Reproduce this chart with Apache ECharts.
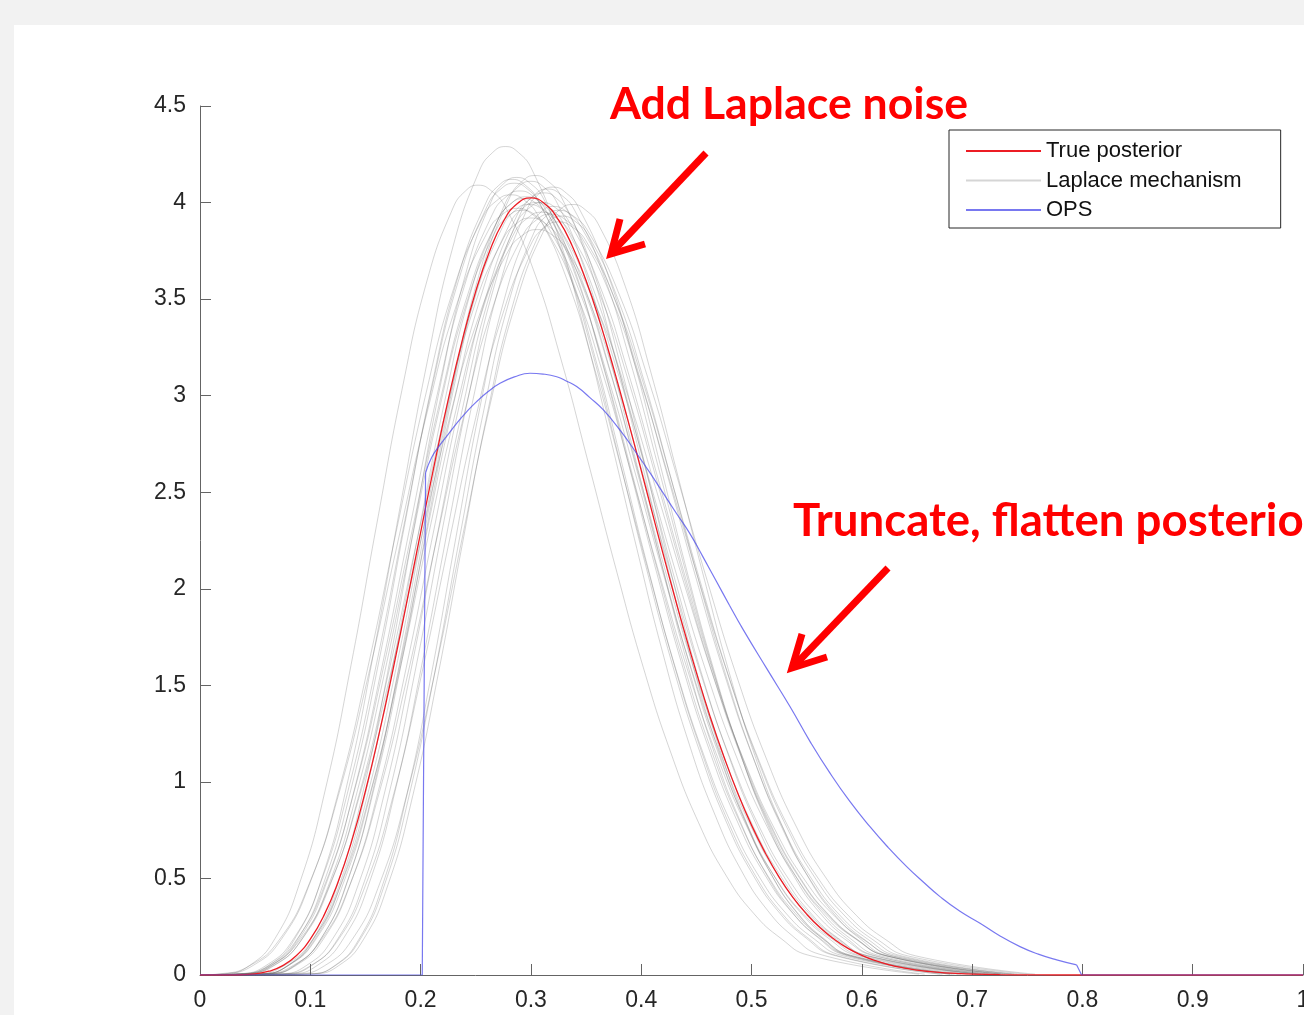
<!DOCTYPE html>
<html>
<head>
<meta charset="utf-8">
<script src="https://cdn.jsdelivr.net/npm/echarts@6/dist/echarts.min.js"></script>
<style>
html,body{margin:0;padding:0;width:1304px;height:1015px;background:#f2f2f2;overflow:hidden;}
#panel{position:absolute;left:14px;top:25px;right:0;bottom:0;background:#ffffff;}
#chart{position:absolute;left:0;top:0;width:1304px;height:1015px;}
</style>
</head>
<body>
<div id="panel"></div>
<div id="chart"></div>
<script>
// ---- Axis ticks ----
const xTicks = [0, 0.1, 0.2, 0.3, 0.4, 0.5, 0.6, 0.7, 0.8, 0.9, 1];
const yTicks = [0, 0.5, 1, 1.5, 2, 2.5, 3, 3.5, 4, 4.5];

// ---- True posterior (red) ----
const trueX = [0, 0.0125, 0.025, 0.0375, 0.05, 0.0625, 0.075, 0.0875, 0.1, 0.1125, 0.125, 0.1375, 0.15, 0.1625, 0.175, 0.1875, 0.2, 0.2125, 0.225, 0.2375, 0.25, 0.2625, 0.275, 0.2875, 0.3, 0.3125, 0.325, 0.3375, 0.35, 0.3625, 0.375, 0.3875, 0.4, 0.4125, 0.425, 0.4375, 0.45, 0.4625, 0.475, 0.4875, 0.5, 0.5125, 0.525, 0.5375, 0.55, 0.5625, 0.575, 0.5875, 0.6, 0.6125, 0.625, 0.6375, 0.65, 0.6625, 0.675, 0.6875, 0.7, 0.725, 0.75, 0.775, 0.8, 0.9, 1];
const trueY = [0, 0, 0.0001, 0.0013, 0.0062, 0.0196, 0.0486, 0.1013, 0.186, 0.310, 0.479, 0.693, 0.953, 1.252, 1.582, 1.932, 2.291, 2.644, 2.978, 3.280, 3.540, 3.747, 3.902, 3.994, 4.024, 3.994, 3.910, 3.775, 3.596, 3.382, 3.141, 2.882, 2.613, 2.340, 2.071, 1.812, 1.567, 1.338, 1.130, 0.942, 0.776, 0.632, 0.507, 0.402, 0.315, 0.243, 0.185, 0.138, 0.102, 0.074, 0.0528, 0.037, 0.0254, 0.0171, 0.0113, 0.0073, 0.0046, 0.0017, 0.0005, 0.0001, 0, 0, 0];

// ---- OPS (blue) ----
const opsZeroX = [0, 0.2015, 0.2045];
const opsZeroY = [0, 0, 2.60];
const opsX = [0.2045, 0.21, 0.2176, 0.225, 0.2327, 0.2415, 0.2508, 0.261, 0.272, 0.285, 0.2992, 0.311, 0.3234, 0.3325, 0.3415, 0.3535, 0.3657, 0.381, 0.396, 0.408, 0.420, 0.432, 0.444, 0.456, 0.468, 0.48, 0.4926, 0.514, 0.535, 0.553, 0.5712, 0.589, 0.6074, 0.624, 0.6407, 0.656, 0.6709, 0.689, 0.7072, 0.725, 0.7434, 0.76, 0.7767, 0.7948];
const opsY = [2.60, 2.68, 2.745, 2.80, 2.857, 2.915, 2.969, 3.02, 3.064, 3.097, 3.116, 3.112, 3.098, 3.075, 3.047, 2.99, 2.926, 2.82, 2.70, 2.60, 2.495, 2.39, 2.287, 2.165, 2.04, 1.915, 1.787, 1.585, 1.389, 1.21, 1.045, 0.90, 0.768, 0.66, 0.561, 0.48, 0.406, 0.33, 0.268, 0.203, 0.147, 0.108, 0.078, 0.052];
const opsTailX = [0.7948, 0.7993, 1];
const opsTailY = [0.052, 0, 0];

// ---- Laplace mechanism samples (gray): main points ----
const lapX = [
 [0, 0.022, 0.068, 0.091, 0.114, 0.137, 0.16, 0.183, 0.206, 0.229, 0.252, 0.277, 0.302, 0.327, 0.352, 0.377, 0.402, 0.427, 0.452, 0.502, 0.552, 0.652],
 [0, 0.0395, 0.087, 0.111, 0.1345, 0.158, 0.182, 0.206, 0.2295, 0.253, 0.277, 0.301, 0.3245, 0.348, 0.372, 0.396, 0.4195, 0.443, 0.467, 0.5145, 0.562, 0.657],
 [0.013, 0.0615, 0.11, 0.134, 0.1585, 0.183, 0.207, 0.231, 0.2555, 0.28, 0.304, 0.328, 0.3515, 0.375, 0.399, 0.423, 0.4465, 0.47, 0.494, 0.5415, 0.589, 0.684],
 [0, 0.035, 0.085, 0.11, 0.135, 0.16, 0.185, 0.21, 0.235, 0.26, 0.285, 0.309, 0.3335, 0.358, 0.382, 0.406, 0.4305, 0.455, 0.479, 0.5275, 0.576, 0.673],
 [0, 0.04, 0.09, 0.115, 0.14, 0.165, 0.19, 0.215, 0.24, 0.265, 0.29, 0.315, 0.34, 0.365, 0.39, 0.415, 0.44, 0.465, 0.49, 0.54, 0.59, 0.69],
 [0, 0.036, 0.088, 0.114, 0.14, 0.166, 0.192, 0.218, 0.244, 0.27, 0.296, 0.321, 0.346, 0.371, 0.396, 0.421, 0.446, 0.471, 0.496, 0.546, 0.596, 0.696],
 [0.025, 0.0725, 0.12, 0.144, 0.1675, 0.191, 0.215, 0.239, 0.2625, 0.286, 0.31, 0.336, 0.362, 0.388, 0.414, 0.44, 0.466, 0.492, 0.518, 0.57, 0.622, 0.726],
 [0.056, 0.1, 0.144, 0.166, 0.188, 0.21, 0.232, 0.254, 0.276, 0.298, 0.32, 0.346, 0.372, 0.398, 0.424, 0.45, 0.476, 0.502, 0.528, 0.58, 0.632, 0.736],
 [0.055, 0.1, 0.145, 0.1675, 0.19, 0.2125, 0.235, 0.2575, 0.28, 0.3025, 0.325, 0.352, 0.379, 0.406, 0.433, 0.46, 0.487, 0.514, 0.541, 0.595, 0.649, 0.757],
 [0.058, 0.103, 0.148, 0.1705, 0.193, 0.2155, 0.238, 0.2605, 0.283, 0.3055, 0.328, 0.353, 0.378, 0.403, 0.428, 0.453, 0.478, 0.503, 0.528, 0.578, 0.628, 0.728],
 [0, 0.022, 0.074, 0.1, 0.126, 0.152, 0.178, 0.204, 0.23, 0.256, 0.282, 0.307, 0.332, 0.357, 0.382, 0.407, 0.432, 0.457, 0.482, 0.532, 0.582, 0.682],
 [0, 0.04, 0.092, 0.118, 0.144, 0.17, 0.196, 0.222, 0.248, 0.274, 0.3, 0.326, 0.352, 0.378, 0.404, 0.43, 0.456, 0.482, 0.508, 0.56, 0.612, 0.716],
 [0.03, 0.0775, 0.125, 0.149, 0.1725, 0.196, 0.22, 0.244, 0.2675, 0.291, 0.315, 0.34, 0.365, 0.39, 0.415, 0.44, 0.465, 0.49, 0.515, 0.565, 0.615, 0.715],
 [0.025, 0.075, 0.125, 0.15, 0.175, 0.2, 0.225, 0.25, 0.275, 0.3, 0.325, 0.351, 0.377, 0.403, 0.429, 0.455, 0.481, 0.507, 0.533, 0.585, 0.637, 0.741],
 [0, 0.018, 0.072, 0.099, 0.126, 0.153, 0.18, 0.207, 0.234, 0.261, 0.288, 0.314, 0.34, 0.366, 0.392, 0.418, 0.444, 0.47, 0.496, 0.548, 0.6, 0.704],
 [0.015, 0.0625, 0.11, 0.134, 0.1575, 0.181, 0.205, 0.229, 0.2525, 0.276, 0.3, 0.324, 0.3475, 0.371, 0.395, 0.419, 0.4425, 0.466, 0.49, 0.5375, 0.585, 0.68],
 [0.038, 0.088, 0.138, 0.163, 0.188, 0.213, 0.238, 0.263, 0.288, 0.313, 0.338, 0.362, 0.3855, 0.409, 0.433, 0.457, 0.4805, 0.504, 0.528, 0.5755, 0.623, 0.718],
 [0, 0.036, 0.09, 0.117, 0.144, 0.171, 0.198, 0.225, 0.252, 0.279, 0.306, 0.333, 0.36, 0.387, 0.414, 0.441, 0.468, 0.495, 0.522, 0.576, 0.63, 0.738],
 [0, 0.0405, 0.089, 0.113, 0.1375, 0.162, 0.186, 0.21, 0.2345, 0.259, 0.283, 0.307, 0.3315, 0.356, 0.38, 0.404, 0.4285, 0.453, 0.477, 0.5255, 0.574, 0.671],
 [0.006, 0.058, 0.11, 0.136, 0.162, 0.188, 0.214, 0.24, 0.266, 0.292, 0.318, 0.345, 0.372, 0.399, 0.426, 0.453, 0.48, 0.507, 0.534, 0.588, 0.642, 0.75],
 [0.008, 0.0555, 0.103, 0.127, 0.1505, 0.174, 0.198, 0.222, 0.2455, 0.269, 0.293, 0.319, 0.345, 0.371, 0.397, 0.423, 0.449, 0.475, 0.501, 0.553, 0.605, 0.709],
 [0.012, 0.062, 0.112, 0.137, 0.162, 0.187, 0.212, 0.237, 0.262, 0.287, 0.312, 0.335, 0.358, 0.381, 0.404, 0.427, 0.45, 0.473, 0.496, 0.542, 0.588, 0.68],
 [0.005, 0.055, 0.105, 0.13, 0.155, 0.18, 0.205, 0.23, 0.255, 0.28, 0.305, 0.33, 0.355, 0.38, 0.405, 0.43, 0.455, 0.48, 0.505, 0.555, 0.605, 0.705],
 [0, 0.042, 0.092, 0.117, 0.142, 0.167, 0.192, 0.217, 0.242, 0.267, 0.292, 0.318, 0.344, 0.37, 0.396, 0.422, 0.448, 0.474, 0.5, 0.552, 0.604, 0.708],
 [0.035, 0.0825, 0.13, 0.154, 0.1775, 0.201, 0.225, 0.249, 0.2725, 0.296, 0.32, 0.344, 0.3685, 0.393, 0.417, 0.441, 0.4655, 0.49, 0.514, 0.5625, 0.611, 0.708],
 [0.011, 0.057, 0.103, 0.126, 0.149, 0.172, 0.195, 0.218, 0.241, 0.264, 0.287, 0.312, 0.337, 0.362, 0.387, 0.412, 0.437, 0.462, 0.487, 0.537, 0.587, 0.687],
 [0, 0.05, 0.102, 0.128, 0.154, 0.18, 0.206, 0.232, 0.258, 0.284, 0.31, 0.336, 0.362, 0.388, 0.414, 0.44, 0.466, 0.492, 0.518, 0.57, 0.622, 0.726],
 [0.007, 0.0555, 0.104, 0.128, 0.1525, 0.177, 0.201, 0.225, 0.2495, 0.274, 0.298, 0.325, 0.352, 0.379, 0.406, 0.433, 0.46, 0.487, 0.514, 0.568, 0.622, 0.73]
];
const lapY = [
 [0, 0.006, 0.189, 0.487, 0.969, 1.607, 2.327, 3.027, 3.599, 3.967, 4.09, 3.975, 3.656, 3.194, 2.654, 2.106, 1.591, 1.149, 0.789, 0.319, 0.102, 0.0045],
 [0, 0.0064, 0.198, 0.511, 1.017, 1.686, 2.441, 3.175, 3.775, 4.161, 4.29, 4.170, 3.835, 3.350, 2.784, 2.209, 1.669, 1.205, 0.828, 0.335, 0.107, 0.0047],
 [0, 0.0062, 0.191, 0.493, 0.981, 1.627, 2.356, 3.064, 3.643, 4.016, 4.14, 4.024, 3.701, 3.233, 2.687, 2.132, 1.610, 1.163, 0.799, 0.323, 0.1035, 0.0046],
 [0, 0.0062, 0.189, 0.488, 0.972, 1.611, 2.333, 3.034, 3.608, 3.977, 4.10, 3.985, 3.665, 3.202, 2.661, 2.112, 1.595, 1.152, 0.791, 0.320, 0.1025, 0.0045],
 [0, 0.0061, 0.188, 0.483, 0.962, 1.596, 2.310, 3.004, 3.573, 3.938, 4.06, 3.946, 3.630, 3.171, 2.635, 2.091, 1.579, 1.141, 0.784, 0.317, 0.1015, 0.0045],
 [0, 0.006, 0.186, 0.480, 0.955, 1.584, 2.293, 2.982, 3.546, 3.909, 4.03, 3.917, 3.603, 3.147, 2.615, 2.075, 1.568, 1.132, 0.778, 0.314, 0.1008, 0.0044],
 [0, 0.006, 0.185, 0.476, 0.948, 1.572, 2.276, 2.96, 3.52, 3.88, 4.0, 3.888, 3.576, 3.124, 2.596, 2.06, 1.556, 1.124, 0.772, 0.312, 0.1, 0.0044],
 [0, 0.006, 0.184, 0.474, 0.943, 1.564, 2.265, 2.945, 3.502, 3.861, 3.98, 3.869, 3.558, 3.108, 2.583, 2.050, 1.548, 1.118, 0.768, 0.310, 0.0995, 0.0044],
 [0, 0.0059, 0.183, 0.471, 0.939, 1.556, 2.253, 2.930, 3.485, 3.841, 3.96, 3.849, 3.540, 3.093, 2.570, 2.039, 1.540, 1.113, 0.764, 0.309, 0.099, 0.0044],
 [0, 0.0059, 0.182, 0.468, 0.931, 1.544, 2.236, 2.908, 3.458, 3.812, 3.93, 3.820, 3.513, 3.069, 2.551, 2.024, 1.529, 1.104, 0.758, 0.307, 0.098, 0.0043],
 [0, 0.0061, 0.187, 0.481, 0.958, 1.588, 2.299, 2.990, 3.555, 3.919, 4.04, 3.927, 3.612, 3.155, 2.622, 2.081, 1.572, 1.135, 0.780, 0.315, 0.101, 0.0044],
 [0, 0.0059, 0.181, 0.467, 0.929, 1.541, 2.230, 2.901, 3.450, 3.802, 3.92, 3.810, 3.504, 3.062, 2.544, 2.019, 1.525, 1.102, 0.757, 0.306, 0.098, 0.0043],
 [0, 0.0061, 0.188, 0.484, 0.965, 1.600, 2.316, 3.012, 3.582, 3.948, 4.07, 3.956, 3.639, 3.179, 2.641, 2.096, 1.583, 1.144, 0.786, 0.317, 0.102, 0.0045],
 [0, 0.0059, 0.180, 0.464, 0.924, 1.533, 2.219, 2.886, 3.432, 3.783, 3.90, 3.791, 3.487, 3.046, 2.531, 2.009, 1.517, 1.096, 0.753, 0.304, 0.0975, 0.0043],
 [0, 0.006, 0.183, 0.472, 0.941, 1.560, 2.259, 2.938, 3.494, 3.851, 3.97, 3.859, 3.549, 3.101, 2.577, 2.045, 1.544, 1.116, 0.766, 0.310, 0.099, 0.0044],
 [0, 0.0062, 0.190, 0.489, 0.974, 1.615, 2.339, 3.041, 3.617, 3.987, 4.11, 3.995, 3.674, 3.210, 2.667, 2.117, 1.599, 1.155, 0.793, 0.321, 0.103, 0.0045],
 [0, 0.006, 0.184, 0.475, 0.946, 1.568, 2.270, 2.953, 3.511, 3.870, 3.99, 3.878, 3.567, 3.116, 2.590, 2.055, 1.552, 1.121, 0.770, 0.311, 0.0998, 0.0044],
 [0, 0.0058, 0.178, 0.459, 0.915, 1.517, 2.196, 2.856, 3.397, 3.744, 3.86, 3.752, 3.451, 3.015, 2.505, 1.988, 1.502, 1.085, 0.745, 0.301, 0.0965, 0.0042],
 [0, 0.0062, 0.190, 0.490, 0.976, 1.619, 2.344, 3.049, 3.626, 3.996, 4.12, 4.005, 3.683, 3.218, 2.674, 2.122, 1.603, 1.158, 0.795, 0.321, 0.103, 0.0045],
 [0, 0.0059, 0.182, 0.469, 0.934, 1.548, 2.242, 2.916, 3.467, 3.822, 3.94, 3.830, 3.522, 3.077, 2.557, 2.029, 1.533, 1.107, 0.760, 0.307, 0.0985, 0.0043],
 [0, 0.006, 0.186, 0.478, 0.953, 1.580, 2.287, 2.975, 3.538, 3.899, 4.02, 3.907, 3.594, 3.140, 2.609, 2.070, 1.564, 1.130, 0.776, 0.314, 0.1005, 0.0044],
 [0, 0.0061, 0.187, 0.482, 0.960, 1.592, 2.304, 2.997, 3.564, 3.929, 4.05, 3.937, 3.621, 3.163, 2.628, 2.086, 1.575, 1.138, 0.782, 0.316, 0.101, 0.0045],
 [0, 0.006, 0.185, 0.476, 0.948, 1.572, 2.276, 2.96, 3.52, 3.88, 4.0, 3.888, 3.576, 3.124, 2.596, 2.06, 1.556, 1.124, 0.772, 0.312, 0.1, 0.0044],
 [0, 0.0059, 0.183, 0.471, 0.939, 1.556, 2.253, 2.930, 3.485, 3.841, 3.96, 3.849, 3.540, 3.093, 2.570, 2.039, 1.540, 1.113, 0.764, 0.309, 0.099, 0.0044],
 [0, 0.0061, 0.1885, 0.4855, 0.967, 1.603, 2.3215, 3.019, 3.590, 3.958, 4.08, 3.966, 3.648, 3.186, 2.648, 2.101, 1.587, 1.146, 0.787, 0.318, 0.102, 0.0045],
 [0, 0.0062, 0.1908, 0.4915, 0.9788, 1.623, 2.350, 3.056, 3.634, 4.006, 4.13, 4.014, 3.692, 3.226, 2.680, 2.127, 1.607, 1.161, 0.797, 0.322, 0.103, 0.0045],
 [0, 0.0059, 0.1825, 0.470, 0.936, 1.552, 2.248, 2.923, 3.476, 3.832, 3.95, 3.839, 3.531, 3.085, 2.564, 2.034, 1.537, 1.110, 0.762, 0.308, 0.099, 0.0043],
 [0, 0.006, 0.184, 0.475, 0.946, 1.568, 2.270, 2.953, 3.511, 3.870, 3.99, 3.878, 3.567, 3.116, 2.590, 2.055, 1.552, 1.121, 0.770, 0.311, 0.0998, 0.0044]
];
// ---- Laplace mechanism samples (gray): extra points near the base, top and right tail ----
const lapXExtra = [
 [0.045, 0.2405, 0.2645, 0.477, 0.527],
 [0.0633, 0.2651, 0.2889, 0.4908, 0.5383],
 [0.0858, 0.2919, 0.3159, 0.5178, 0.5653],
 [0.06, 0.2725, 0.2971, 0.5033, 0.5518],
 [0.065, 0.2775, 0.3025, 0.515, 0.565],
 [0.062, 0.283, 0.3085, 0.521, 0.571],
 [0.0963, 0.2981, 0.323, 0.544, 0.596],
 [0.122, 0.309, 0.333, 0.554, 0.606],
 [0.1225, 0.3138, 0.3385, 0.568, 0.622],
 [0.1255, 0.3168, 0.3405, 0.553, 0.603],
 [0.048, 0.269, 0.2945, 0.507, 0.557],
 [0.066, 0.287, 0.313, 0.534, 0.586],
 [0.1013, 0.3031, 0.3275, 0.54, 0.59],
 [0.1, 0.3125, 0.338, 0.559, 0.611],
 [0.045, 0.2745, 0.301, 0.522, 0.574],
 [0.0863, 0.2881, 0.3119, 0.5138, 0.5613],
 [0.113, 0.3255, 0.3499, 0.5518, 0.5993],
 [0.063, 0.2925, 0.3195, 0.549, 0.603],
 [0.0648, 0.2709, 0.2951, 0.5013, 0.5498],
 [0.084, 0.305, 0.3315, 0.561, 0.615],
 [0.0793, 0.2811, 0.306, 0.527, 0.579],
 [0.087, 0.2995, 0.3235, 0.519, 0.565],
 [0.08, 0.2925, 0.3175, 0.53, 0.58],
 [0.067, 0.2795, 0.305, 0.526, 0.578],
 [0.1063, 0.3081, 0.3321, 0.5383, 0.5868],
 [0.08, 0.2755, 0.2995, 0.512, 0.562],
 [0.076, 0.297, 0.323, 0.544, 0.596],
 [0.0798, 0.2859, 0.3115, 0.541, 0.595]
];
const lapYExtra = [
 [0.0495, 4.059, 4.059, 0.515, 0.188],
 [0.052, 4.258, 4.258, 0.541, 0.197],
 [0.0501, 4.109, 4.109, 0.522, 0.190],
 [0.0496, 4.069, 4.069, 0.517, 0.189],
 [0.0491, 4.030, 4.030, 0.512, 0.187],
 [0.0488, 4.000, 4.000, 0.508, 0.185],
 [0.0484, 3.970, 3.970, 0.504, 0.184],
 [0.0482, 3.950, 3.950, 0.502, 0.183],
 [0.0479, 3.930, 3.930, 0.499, 0.182],
 [0.0476, 3.901, 3.901, 0.495, 0.181],
 [0.0489, 4.010, 4.010, 0.509, 0.186],
 [0.0474, 3.891, 3.891, 0.494, 0.180],
 [0.0492, 4.039, 4.039, 0.513, 0.187],
 [0.0472, 3.871, 3.871, 0.491, 0.179],
 [0.048, 3.940, 3.940, 0.500, 0.183],
 [0.0497, 4.079, 4.079, 0.518, 0.189],
 [0.0483, 3.960, 3.960, 0.503, 0.184],
 [0.0467, 3.831, 3.831, 0.486, 0.178],
 [0.0499, 4.089, 4.089, 0.519, 0.190],
 [0.0477, 3.910, 3.910, 0.496, 0.181],
 [0.0486, 3.990, 3.990, 0.507, 0.185],
 [0.049, 4.020, 4.020, 0.510, 0.186],
 [0.0484, 3.970, 3.970, 0.504, 0.184],
 [0.0479, 3.930, 3.930, 0.499, 0.182],
 [0.0494, 4.049, 4.049, 0.514, 0.188],
 [0.05, 4.099, 4.099, 0.520, 0.190],
 [0.0478, 3.920, 3.920, 0.498, 0.182],
 [0.0483, 3.960, 3.960, 0.503, 0.184]
];

const legendNames = ['True posterior', 'Laplace mechanism', 'OPS'];
const notes = ['Add Laplace noise', 'Truncate, flatten posterior'];

function zip(xs, ys) { return xs.map((x, i) => [x, ys[i]]); }
function byX(a, b) { return a[0] - b[0]; }

const AXIS_FONT = "'Liberation Sans', Arial, Helvetica, sans-serif";
const axisColor = '#646464';
const grayColor = 'rgba(105,105,105,0.28)';
const redColor = '#ec1c24';
const blueColor = 'rgba(75,75,235,0.75)';

const series = [];
lapX.forEach((xs, k) => {
  const pts = zip(xs, lapY[k]).concat(zip(lapXExtra[k], lapYExtra[k])).sort(byX);
  series.push({
    name: legendNames[1], type: 'line', data: pts,
    smooth: true, symbol: 'none', showSymbol: false, silent: true, z: 2,
    lineStyle: { color: grayColor, width: 1 }, itemStyle: { color: grayColor }
  });
});
series.push({
  name: legendNames[0], type: 'line', data: zip(trueX, trueY),
  smooth: true, symbol: 'none', showSymbol: false, silent: true, z: 3,
  lineStyle: { color: redColor, width: 1.3 }, itemStyle: { color: redColor }
});
series.push({
  name: legendNames[2], type: 'line', data: zip(opsX, opsY),
  smooth: true, symbol: 'none', showSymbol: false, silent: true, z: 4,
  lineStyle: { color: blueColor, width: 1.2 }, itemStyle: { color: blueColor }
});
series.push({
  name: legendNames[2], type: 'line', data: zip(opsZeroX, opsZeroY),
  smooth: false, symbol: 'none', showSymbol: false, silent: true, z: 4,
  lineStyle: { color: blueColor, width: 1.2 }, itemStyle: { color: blueColor }
});
series.push({
  name: legendNames[2], type: 'line', data: zip(opsTailX, opsTailY),
  smooth: false, symbol: 'none', showSymbol: false, silent: true, z: 4,
  lineStyle: { color: blueColor, width: 1.2 }, itemStyle: { color: blueColor }
});

const chart = echarts.init(document.getElementById('chart'), null, { renderer: 'canvas' });
chart.setOption({
  animation: false,
  backgroundColor: 'transparent',
  grid: { left: 200, right: 1, top: 106, bottom: 40, containLabel: false, outerBoundsMode: 'none' },
  xAxis: {
    type: 'value', min: xTicks[0], max: xTicks[xTicks.length - 1], interval: 0.1,
    axisLine: { show: true, lineStyle: { color: axisColor, width: 1 } },
    axisTick: { show: true, inside: true, length: 11, lineStyle: { color: axisColor } },
    axisLabel: { show: true, margin: 14, fontSize: 23, color: '#262626', fontFamily: AXIS_FONT, hideOverlap: false },
    splitLine: { show: false }
  },
  yAxis: {
    type: 'value', min: yTicks[0], max: yTicks[yTicks.length - 1], interval: 0.5,
    axisLine: { show: true, lineStyle: { color: axisColor, width: 1 } },
    axisTick: { show: true, inside: true, length: 11, lineStyle: { color: axisColor } },
    axisLabel: { show: true, margin: 14, fontSize: 23, color: '#262626', fontFamily: AXIS_FONT },
    splitLine: { show: false }
  },
  legend: {
    data: legendNames, orient: 'vertical', left: 949, top: 130,
    backgroundColor: '#ffffff', borderColor: '#262626', borderWidth: 1,
    padding: [10, 39, 7, 16], itemWidth: 75, itemHeight: 14, itemGap: 7.5,
    selectedMode: false,
    itemStyle: { opacity: 0 },
    textStyle: { fontSize: 22, color: '#111111', fontFamily: AXIS_FONT }
  },
  graphic: [
    { type: 'text', x: 610, y: 105, z: 100,
      style: { text: notes[0], fill: '#ff0000', fontSize: 44.6, fontWeight: 'bold', fontFamily: 'Lato', verticalAlign: 'middle' } },
    { type: 'text', x: 793, y: 521, z: 100,
      style: { text: notes[1], fill: '#ff0000', fontSize: 45.6, fontWeight: 'bold', fontFamily: 'Lato', verticalAlign: 'middle' } },
    { type: 'polyline', z: 100, shape: { points: [[706, 153], [615, 249]] },
      style: { stroke: '#ff0000', lineWidth: 7, fill: null } },
    { type: 'polyline', z: 100, shape: { points: [[620, 219], [611, 254], [645, 244]] },
      style: { stroke: '#ff0000', lineWidth: 7, fill: null, lineJoin: 'miter' } },
    { type: 'polyline', z: 100, shape: { points: [[888, 568], [796, 664]] },
      style: { stroke: '#ff0000', lineWidth: 7, fill: null } },
    { type: 'polyline', z: 100, shape: { points: [[802, 634], [792, 668], [827, 657]] },
      style: { stroke: '#ff0000', lineWidth: 7, fill: null, lineJoin: 'miter' } }
  ],
  series: series
});
</script>
</body>
</html>
